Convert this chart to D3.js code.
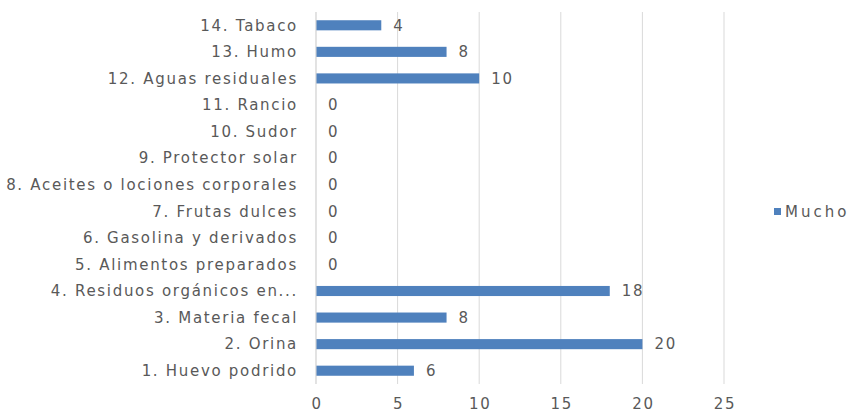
<!DOCTYPE html>
<meta charset="utf-8">
<style>
body { margin: 0; background: #fff; }
text { font-family: "DejaVu Sans", sans-serif; fill: #595959; letter-spacing: 1.7px; font-size: 15px; }
.grid line { stroke: #d9d9d9; stroke-width: 1; }
</style>
<svg width="854" height="413"></svg>
<script src="https://cdn.jsdelivr.net/npm/d3@7"></script>
<script>
// categories listed bottom to top
let categories = ["1. Huevo podrido", "2. Orina", "3. Materia fecal", "4. Residuos orgánicos en...",
    "5. Alimentos preparados", "6. Gasolina y  derivados", "7. Frutas dulces",
    "8. Aceites o lociones corporales", "9. Protector solar", "10. Sudor", "11. Rancio",
    "12. Aguas residuales", "13. Humo", "14. Tabaco"];
let mucho = [6, 20, 8, 18, 0, 0, 0, 0, 0, 0, 0, 10, 8, 4];
let xTicks = [0, 5, 10, 15, 20, 25];
let seriesName = "Mucho";

let svg = d3.select("svg"),
    margin = {top: 12, right: 130, bottom: 29, left: 316},
    width = 724 - margin.left,
    height = 413 - margin.top - margin.bottom,
    g = svg.append("g").attr("transform", "translate(" + margin.left + "," + margin.top + ")");

let x = d3.scaleLinear().domain([0, 25]).range([0, width]);
let y = d3.scaleBand().domain(categories.slice().reverse()).range([0, height]).paddingInner(0.62).paddingOuter(0.31);

// vertical gridlines
g.append("g").attr("class", "grid")
    .selectAll("line").data(xTicks).enter().append("line")
    .attr("x1", d => x(d)).attr("x2", d => x(d))
    .attr("y1", 0).attr("y2", height);

// x tick labels
g.selectAll(".xlab").data(xTicks).enter().append("text")
    .attr("class", "xlab")
    .attr("x", d => x(d) + 1).attr("y", height + 25)
    .attr("text-anchor", "middle")
    .text(d => d);

// bars
g.selectAll(".bar").data(mucho).enter().append("rect")
    .attr("class", "bar")
    .attr("x", 0)
    .attr("y", (d, i) => y(categories[i]))
    .attr("width", d => x(d))
    .attr("height", y.bandwidth())
    .attr("fill", "#4f81bd");

// value labels
g.selectAll(".val").data(mucho).enter().append("text")
    .attr("class", "val")
    .attr("x", d => x(d) + 12)
    .attr("y", (d, i) => y(categories[i]) + y.bandwidth() / 2)
    .attr("dy", "0.35em")
    .text(d => d);

// category labels
g.selectAll(".cat").data(categories).enter().append("text")
    .attr("class", "cat")
    .attr("x", -18)
    .attr("y", d => y(d) + y.bandwidth() / 2)
    .attr("dy", "0.35em")
    .attr("text-anchor", "end")
    .text(d => d);

// y axis line
g.append("line")
    .attr("x1", 0).attr("x2", 0).attr("y1", 0).attr("y2", height)
    .attr("stroke", "#d9d9d9");

// legend
let legend = svg.append("g").attr("transform", "translate(774,208)");
legend.append("rect").attr("width", 7).attr("height", 7).attr("fill", "#4f81bd");
legend.append("text").attr("x", 11).attr("y", 4).attr("dy", "0.35em")
    .style("letter-spacing", "3px").text(seriesName);
</script>
